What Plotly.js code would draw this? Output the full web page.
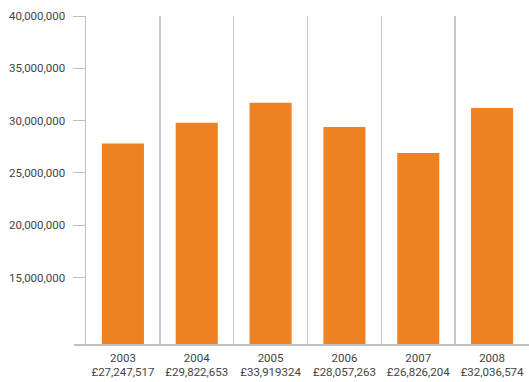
<!DOCTYPE html>
<html>
<head>
<meta charset="utf-8">
<script src="https://cdn.plot.ly/plotly-3.0.1.min.js"></script>
<style>html,body{margin:0;padding:0;background:#fff;}#chart{width:529px;height:382px;}</style>
</head>
<body>
<div id="chart"></div>
<script>
const years = ["2003", "2004", "2005", "2006", "2007", "2008"];
const amountLabels = ["£27,247,517", "£29,822,653", "£33,919324", "£28,057,263", "£26,826,204", "£32,036,574"];
const values = [27800000, 29800000, 31700000, 29400000, 26900000, 31200000];
const yTicks = [15000000, 20000000, 25000000, 30000000, 35000000, 40000000];

const categories = years.map((y, i) => y + "<br>" + amountLabels[i]);
const yTickText = yTicks.map(v => v.toLocaleString("en-US"));

const trace = {
  type: "bar",
  x: categories,
  y: values,
  marker: { color: "#EE8223", line: { width: 0 } },
  hoverinfo: "none"
};

const layout = {
  width: 529, height: 382,
  margin: { l: 86, r: 0, t: 16, b: 37, pad: 0 },
  paper_bgcolor: "#fff", plot_bgcolor: "#fff",
  showlegend: false,
  bargap: 0.43,
  font: { family: "Roboto, 'DejaVu Sans', sans-serif", size: 11, color: "#555" },
  xaxis: {
    type: "category",
    tickson: "boundaries",
    showgrid: true, gridcolor: "#c8c8c8", gridwidth: 1.5,
    ticks: "", showline: false, zeroline: false,
    ticklabelstandoff: 4,
    tickfont: { size: 11.5, color: "#444" },
    fixedrange: true
  },
  yaxis: {
    range: [8550000, 40000000],
    tickvals: yTicks, ticktext: yTickText,
    showgrid: false, zeroline: false,
    showline: true, linecolor: "#c0c0c0", linewidth: 1.5,
    ticks: "outside", ticklen: 12, tickcolor: "#c0c0c0", tickwidth: 1,
    ticklabelstandoff: 5,
    tickfont: { size: 11.5, color: "#444" },
    fixedrange: true
  },
  shapes: [{
    type: "line", xref: "paper", yref: "paper",
    x0: -12 / 443, x1: 1, y0: 0, y1: 0,
    line: { color: "#c0c0c0", width: 2 }
  }]
};

Plotly.newPlot("chart", [trace], layout, { displayModeBar: false, staticPlot: true });
</script>
</body>
</html>
